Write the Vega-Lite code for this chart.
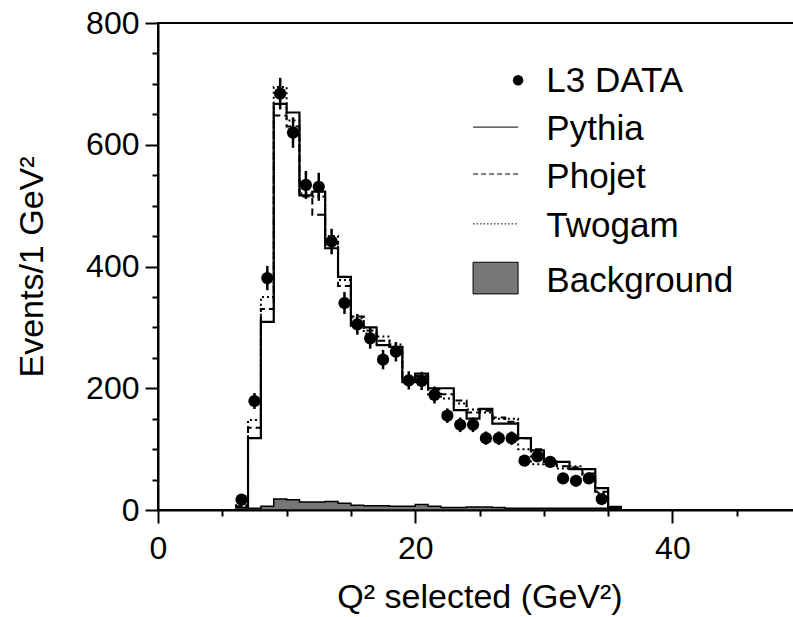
{
  "$schema": "https://vega.github.io/schema/vega-lite/v6.json",
  "width": 643,
  "height": 487,
  "autosize": {"type": "none"},
  "padding": {"left": 158, "top": 23, "right": -8, "bottom": 107},
  "background": "white",
  "config": {
    "font": "Liberation Sans",
    "view": {"stroke": "black", "strokeWidth": 2},
    "axis": {
      "grid": false,
      "domainColor": "black",
      "domainWidth": 2,
      "tickColor": "black",
      "tickWidth": 2,
      "labelColor": "black",
      "titleColor": "black",
      "titleFontWeight": "normal",
      "labelFont": "Liberation Sans",
      "titleFont": "Liberation Sans",
      "labelFlush": false,
      "labelOverlap": false
    }
  },
  "datasets": {
    "mc": [
      {"q": 6, "pythia": 4, "phojet": 6, "twogam": 8, "bkg": 1},
      {"q": 7, "pythia": 118, "phojet": 135, "twogam": 148, "bkg": 3},
      {"q": 8, "pythia": 309, "phojet": 330, "twogam": 350, "bkg": 6},
      {"q": 9, "pythia": 667, "phojet": 648, "twogam": 695, "bkg": 18},
      {"q": 10, "pythia": 653, "phojet": 630, "twogam": 640, "bkg": 17},
      {"q": 11, "pythia": 517, "phojet": 515, "twogam": 520, "bkg": 13},
      {"q": 12, "pythia": 523, "phojet": 485, "twogam": 515, "bkg": 13},
      {"q": 13, "pythia": 430, "phojet": 440, "twogam": 450, "bkg": 14},
      {"q": 14, "pythia": 383, "phojet": 368, "twogam": 378, "bkg": 11},
      {"q": 15, "pythia": 303, "phojet": 318, "twogam": 315, "bkg": 8},
      {"q": 16, "pythia": 300, "phojet": 295, "twogam": 290, "bkg": 7},
      {"q": 17, "pythia": 271, "phojet": 278, "twogam": 285, "bkg": 7},
      {"q": 18, "pythia": 268, "phojet": 262, "twogam": 272, "bkg": 6},
      {"q": 19, "pythia": 210, "phojet": 215, "twogam": 212, "bkg": 6},
      {"q": 20, "pythia": 224, "phojet": 220, "twogam": 218, "bkg": 9},
      {"q": 21, "pythia": 200, "phojet": 198, "twogam": 190, "bkg": 6},
      {"q": 22, "pythia": 200, "phojet": 190, "twogam": 183, "bkg": 4},
      {"q": 23, "pythia": 164, "phojet": 180, "twogam": 175, "bkg": 4},
      {"q": 24, "pythia": 150, "phojet": 160, "twogam": 165, "bkg": 5},
      {"q": 25, "pythia": 166, "phojet": 163, "twogam": 160, "bkg": 5},
      {"q": 26, "pythia": 142, "phojet": 152, "twogam": 150, "bkg": 4},
      {"q": 27, "pythia": 142, "phojet": 145, "twogam": 150, "bkg": 3},
      {"q": 28, "pythia": 118, "phojet": 118, "twogam": 100, "bkg": 3},
      {"q": 29, "pythia": 98, "phojet": 100, "twogam": 75, "bkg": 3},
      {"q": 30, "pythia": 79, "phojet": 84, "twogam": 80, "bkg": 3},
      {"q": 31, "pythia": 79, "phojet": 72, "twogam": 68, "bkg": 3},
      {"q": 32, "pythia": 67, "phojet": 70, "twogam": 72, "bkg": 3},
      {"q": 33, "pythia": 67, "phojet": 60, "twogam": 58, "bkg": 3},
      {"q": 34, "pythia": 36, "phojet": 30, "twogam": 28, "bkg": 3},
      {"q": 35, "pythia": 5, "phojet": 5, "twogam": 4, "bkg": 2},
      {"q": 36, "pythia": 0, "phojet": 0, "twogam": 0, "bkg": 0}
    ],
    "obs": [
      {"q": 6.5, "n": 17, "lo": 13, "hi": 21},
      {"q": 7.5, "n": 179, "lo": 166, "hi": 192},
      {"q": 8.5, "n": 381, "lo": 361, "hi": 401},
      {"q": 9.5, "n": 684, "lo": 658, "hi": 710},
      {"q": 10.5, "n": 620, "lo": 595, "hi": 645},
      {"q": 11.5, "n": 534, "lo": 511, "hi": 557},
      {"q": 12.5, "n": 531, "lo": 508, "hi": 554},
      {"q": 13.5, "n": 441, "lo": 420, "hi": 462},
      {"q": 14.5, "n": 340, "lo": 322, "hi": 358},
      {"q": 15.5, "n": 305, "lo": 288, "hi": 322},
      {"q": 16.5, "n": 282, "lo": 265, "hi": 299},
      {"q": 17.5, "n": 247, "lo": 231, "hi": 263},
      {"q": 18.5, "n": 260, "lo": 244, "hi": 276},
      {"q": 19.5, "n": 213, "lo": 198, "hi": 228},
      {"q": 20.5, "n": 212, "lo": 197, "hi": 227},
      {"q": 21.5, "n": 189, "lo": 175, "hi": 203},
      {"q": 22.5, "n": 155, "lo": 143, "hi": 167},
      {"q": 23.5, "n": 140, "lo": 128, "hi": 152},
      {"q": 24.5, "n": 140, "lo": 128, "hi": 152},
      {"q": 25.5, "n": 118, "lo": 107, "hi": 129},
      {"q": 26.5, "n": 118, "lo": 107, "hi": 129},
      {"q": 27.5, "n": 118, "lo": 107, "hi": 129},
      {"q": 28.5, "n": 81, "lo": 72, "hi": 90},
      {"q": 29.5, "n": 88, "lo": 79, "hi": 97},
      {"q": 30.5, "n": 79, "lo": 70, "hi": 88},
      {"q": 31.5, "n": 52, "lo": 45, "hi": 59},
      {"q": 32.5, "n": 48, "lo": 41, "hi": 55},
      {"q": 33.5, "n": 52, "lo": 45, "hi": 59},
      {"q": 34.5, "n": 18, "lo": 14, "hi": 22}
    ]
  },
  "resolve": {"axis": {"x": "independent", "y": "independent"}},
  "layer": [
    {
      "data": {"name": "mc"},
      "mark": {"type": "area", "interpolate": "step-after", "fill": "#777777", "stroke": "black", "strokeWidth": 1.5},
      "encoding": {
        "x": {
          "field": "q", "type": "quantitative",
          "scale": {"domain": [0, 50], "nice": false, "zero": false},
          "axis": {
            "orient": "bottom",
            "values": [0, 20, 40],
            "tickSize": 13,
            "labelFontSize": 32,
            "labelBaseline": "alphabetic",
            "labelPadding": 35,
            "title": "Q² selected (GeV²)",
            "titleFontSize": 34,
            "titleBaseline": "alphabetic",
            "titleY": 97
          }
        },
        "y": {
          "field": "bkg", "type": "quantitative",
          "scale": {"domain": [0, 800], "nice": false},
          "axis": {
            "orient": "left",
            "values": [0, 200, 400, 600, 800],
            "tickSize": 13,
            "labelFontSize": 32,
            "labelPadding": 6,
            "title": "Events/1 GeV²",
            "titleFontSize": 34,
            "titleBaseline": "alphabetic",
            "titleX": -116
          }
        }
      }
    },
    {
      "data": {"name": "mc"},
      "mark": {"type": "line", "interpolate": "step-after", "color": "black", "strokeWidth": 2.2},
      "encoding": {
        "x": {"field": "q", "type": "quantitative", "axis": null},
        "y": {"field": "pythia", "type": "quantitative", "axis": null}
      }
    },
    {
      "data": {"name": "mc"},
      "mark": {"type": "line", "interpolate": "step-after", "color": "black", "strokeWidth": 2, "strokeDash": [7, 4]},
      "encoding": {
        "x": {"field": "q", "type": "quantitative", "axis": null},
        "y": {"field": "phojet", "type": "quantitative", "axis": null}
      }
    },
    {
      "data": {"name": "mc"},
      "mark": {"type": "line", "interpolate": "step-after", "color": "black", "strokeWidth": 2, "strokeDash": [2, 3]},
      "encoding": {
        "x": {"field": "q", "type": "quantitative", "axis": null},
        "y": {"field": "twogam", "type": "quantitative", "axis": null}
      }
    },
    {
      "data": {"name": "obs"},
      "mark": {"type": "rule", "color": "black", "strokeWidth": 2.5},
      "encoding": {
        "x": {
          "field": "q", "type": "quantitative",
          "axis": {
            "orient": "bottom",
            "values": [5, 10, 15, 25, 30, 35, 45, 50],
            "tickSize": 6,
            "labels": false,
            "domain": false,
            "title": null
          }
        },
        "y": {
          "field": "lo", "type": "quantitative",
          "axis": {
            "orient": "left",
            "values": [50, 100, 150, 250, 300, 350, 450, 500, 550, 650, 700, 750],
            "tickSize": 6,
            "labels": false,
            "domain": false,
            "title": null
          }
        },
        "y2": {"field": "hi"}
      }
    },
    {
      "data": {"name": "obs"},
      "mark": {"type": "point", "filled": true, "color": "black", "size": 150, "opacity": 1, "strokeWidth": 0},
      "encoding": {
        "x": {"field": "q", "type": "quantitative", "axis": null},
        "y": {"field": "n", "type": "quantitative", "axis": null}
      }
    },
    {
      "data": {"values": [{"label": "L3 DATA"}]},
      "mark": {"type": "point", "filled": true, "color": "black", "size": 110, "opacity": 1, "strokeWidth": 0},
      "encoding": {
        "x": {"datum": 28.0, "type": "quantitative", "axis": null},
        "y": {"datum": 706, "type": "quantitative", "axis": null}
      }
    },
    {
      "data": {"values": [{"label": "Pythia"}]},
      "mark": {"type": "rule", "color": "black", "strokeWidth": 1},
      "encoding": {
        "x": {"datum": 24.5, "type": "quantitative", "axis": null},
        "x2": {"datum": 28.0},
        "y": {"datum": 629, "type": "quantitative", "axis": null}
      }
    },
    {
      "data": {"values": [{"label": "Phojet"}]},
      "mark": {"type": "rule", "color": "black", "strokeWidth": 1, "strokeDash": [5, 3]},
      "encoding": {
        "x": {"datum": 24.5, "type": "quantitative", "axis": null},
        "x2": {"datum": 28.0},
        "y": {"datum": 552, "type": "quantitative", "axis": null}
      }
    },
    {
      "data": {"values": [{"label": "Twogam"}]},
      "mark": {"type": "rule", "color": "black", "strokeWidth": 1, "strokeDash": [1.5, 2]},
      "encoding": {
        "x": {"datum": 24.5, "type": "quantitative", "axis": null},
        "x2": {"datum": 28.0},
        "y": {"datum": 470, "type": "quantitative", "axis": null}
      }
    },
    {
      "data": {"values": [{"label": "Background"}]},
      "mark": {"type": "rect", "fill": "#777777", "stroke": "black", "strokeWidth": 1},
      "encoding": {
        "x": {"datum": 24.5, "type": "quantitative", "axis": null},
        "x2": {"datum": 28.0},
        "y": {"datum": 407, "type": "quantitative", "axis": null},
        "y2": {"datum": 355}
      }
    },
    {
      "data": {"values": [{"label": "L3 DATA"}]},
      "mark": {"type": "text", "align": "left", "baseline": "alphabetic", "font": "Liberation Sans", "fontSize": 35, "color": "black"},
      "encoding": {
        "x": {"datum": 30.2, "type": "quantitative", "axis": null},
        "y": {"datum": 687, "type": "quantitative", "axis": null},
        "text": {"field": "label"}
      }
    },
    {
      "data": {"values": [{"label": "Pythia"}]},
      "mark": {"type": "text", "align": "left", "baseline": "alphabetic", "font": "Liberation Sans", "fontSize": 35, "color": "black"},
      "encoding": {
        "x": {"datum": 30.2, "type": "quantitative", "axis": null},
        "y": {"datum": 608, "type": "quantitative", "axis": null},
        "text": {"field": "label"}
      }
    },
    {
      "data": {"values": [{"label": "Phojet"}]},
      "mark": {"type": "text", "align": "left", "baseline": "alphabetic", "font": "Liberation Sans", "fontSize": 35, "color": "black"},
      "encoding": {
        "x": {"datum": 30.2, "type": "quantitative", "axis": null},
        "y": {"datum": 529, "type": "quantitative", "axis": null},
        "text": {"field": "label"}
      }
    },
    {
      "data": {"values": [{"label": "Twogam"}]},
      "mark": {"type": "text", "align": "left", "baseline": "alphabetic", "font": "Liberation Sans", "fontSize": 35, "color": "black"},
      "encoding": {
        "x": {"datum": 30.2, "type": "quantitative", "axis": null},
        "y": {"datum": 448, "type": "quantitative", "axis": null},
        "text": {"field": "label"}
      }
    },
    {
      "data": {"values": [{"label": "Background"}]},
      "mark": {"type": "text", "align": "left", "baseline": "alphabetic", "font": "Liberation Sans", "fontSize": 35, "color": "black"},
      "encoding": {
        "x": {"datum": 30.2, "type": "quantitative", "axis": null},
        "y": {"datum": 358, "type": "quantitative", "axis": null},
        "text": {"field": "label"}
      }
    }
  ]
}
